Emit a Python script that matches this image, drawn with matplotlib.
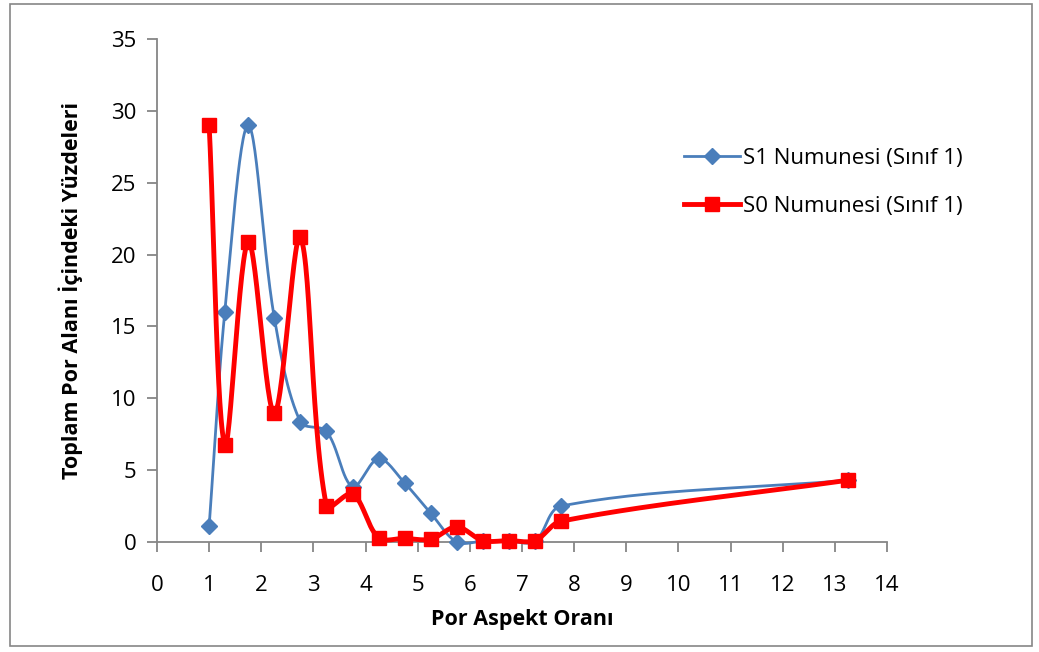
import numpy as np
import matplotlib.pyplot as plt
from matplotlib.patches import Rectangle

# data
aspect = [1.0, 1.3, 1.75, 2.25, 2.75, 3.25, 3.75, 4.25, 4.75, 5.25, 5.75, 6.25, 6.75, 7.25, 7.75, 13.25]
s1 = [1.1, 16.0, 29.0, 15.6, 8.35, 7.7, 3.85, 5.8, 4.1, 2.0, 0.0, 0.05, 0.05, 0.05, 2.5, 4.3]
s0 = [29.0, 6.75, 20.9, 8.95, 21.2, 2.5, 3.35, 0.3, 0.25, 0.2, 1.05, 0.1, 0.1, 0.1, 1.45, 4.3]


def smooth(ax, x, y, n=30, f=1 / 3):
    # Excel-like smoothed line, computed in screen space with chord-weighted tangents
    p = ax.transData.transform(np.column_stack([x, y]))
    out = [p[0]]
    t = np.linspace(0, 1, n)[1:, None]
    m = len(p)
    ctrl_out, ctrl_in = [], []
    for i in range(m):
        prev = p[i - 1] if i > 0 else p[i]
        nxt = p[i + 1] if i + 1 < m else p[i]
        d = nxt - prev
        lin = np.linalg.norm(p[i] - prev)
        lout = np.linalg.norm(nxt - p[i])
        tot = lin + lout if lin + lout > 0 else 1
        ctrl_out.append(p[i] + d * f * lout / tot)
        ctrl_in.append(p[i] - d * f * lin / tot)
    for i in range(m - 1):
        c1, c2 = ctrl_out[i], ctrl_in[i + 1]
        seg = ((1 - t) ** 3) * p[i] + 3 * ((1 - t) ** 2) * t * c1 + 3 * (1 - t) * t ** 2 * c2 + t ** 3 * p[i + 1]
        out.extend(seg)
    out = ax.transData.inverted().transform(np.array(out))
    return out[:, 0], out[:, 1]


plt.rcParams['font.family'] = ['Open Sans', 'DejaVu Sans']
fig = plt.figure(figsize=(10.39, 6.52), dpi=100)
ax = fig.add_axes([157 / 1039, 1 - 542 / 652, (887 - 157) / 1039, (542 - 39) / 652])
ax.set_xlim(0, 14)
ax.set_ylim(0, 35)

blue = '#4A7EBB'
red = '#FF0000'
gray = '#868686'

sx, sy = smooth(ax, aspect, s1)
ax.plot(sx, sy, color=blue, lw=2, clip_on=False, zorder=3)
ax.plot(aspect, s1, ls='none', marker='D', ms=8.5, color=blue, clip_on=False, zorder=4)
rx, ry = smooth(ax, aspect, s0)
ax.plot(rx, ry, color=red, lw=3.5, clip_on=False, zorder=5)
ax.plot(aspect, s0, ls='none', marker='s', ms=9.5, color=red, clip_on=False, zorder=6)

# legend proxies
h1, = ax.plot([], [], color=blue, lw=2, marker='D', ms=8.5)
h2, = ax.plot([], [], color=red, lw=3.5, marker='s', ms=9.5)
fig.legend([h1, h2], ['S1 Numunesi (Sınıf 1)', 'S0 Numunesi (Sınıf 1)'], loc='upper left',
           bbox_to_anchor=(664 / 1039, 1 - 128 / 652), frameon=False, fontsize=16,
           labelspacing=1.2, handlelength=2.5, handletextpad=0.15)

ax.set_xticks(range(0, 15))
ax.set_yticks(range(0, 36, 5))
for s in ['top', 'right']:
    ax.spines[s].set_visible(False)
for s in ['left', 'bottom']:
    ax.spines[s].set_color(gray)
    ax.spines[s].set_linewidth(1.3)
ax.tick_params(colors=gray, labelcolor='black', labelsize=16, length=7, width=1.3)
ax.tick_params(axis='x', pad=17)
ax.tick_params(axis='y', pad=8)
ax.set_xlabel('Por Aspekt Oranı', fontsize=15.5, fontweight='bold', labelpad=9)
ax.set_ylabel('Toplam Por Alanı İçindeki Yüzdeleri', fontsize=15.5, fontweight='bold', labelpad=20)

fig.patches.append(Rectangle((10 / 1039, 6 / 652), 1022 / 1039, 642 / 652, transform=fig.transFigure,
                             fill=False, edgecolor=gray, lw=1.2))

plt.savefig('out.png', dpi=100)
